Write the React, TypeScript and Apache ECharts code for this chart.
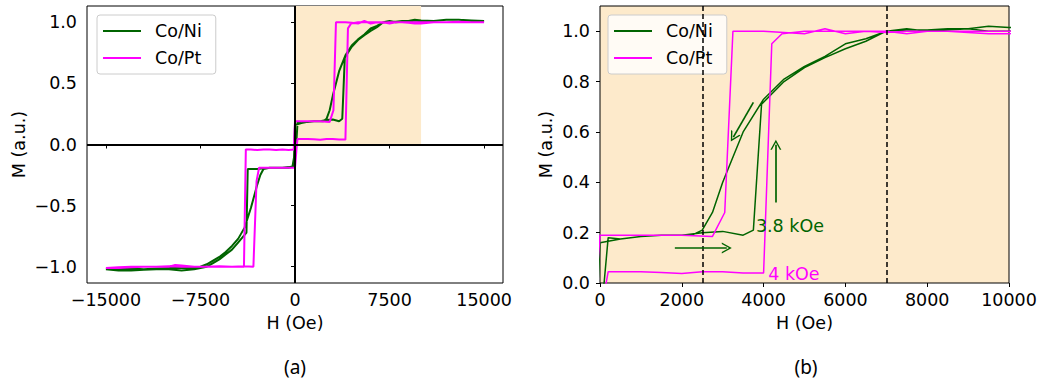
import React, { useEffect, useRef } from "react";
import * as echarts from "echarts";

// Co/Ni loop: decreasing-field branch then increasing-field branch [H (Oe), M (a.u.)]
const niDown: number[][] = [
  [15000, 1.01], [14000, 1.015], [13000, 1.02], [12000, 1.02], [11000, 1.01], [10000, 1.015],
  [9500, 1.02], [9000, 1.01], [8500, 1.01], [8000, 1.005], [7500, 1.005], [7000, 1.0],
  [6500, 0.97], [6000, 0.95], [5500, 0.9], [5000, 0.86], [4500, 0.81], [4000, 0.73],
  [3500, 0.6], [3000, 0.4], [2750, 0.28], [2500, 0.21], [2250, 0.19], [2000, 0.19],
  [1500, 0.19], [1000, 0.185], [500, 0.175], [0, 0.16], [-100, -0.18], [-500, -0.19],
  [-1000, -0.19], [-1500, -0.19], [-2000, -0.19], [-2500, -0.195], [-3000, -0.2], [-3500, -0.2],
  [-3750, -0.2], [-3850, -0.72], [-4000, -0.74], [-4500, -0.8], [-5000, -0.86], [-5500, -0.9],
  [-6000, -0.94], [-6500, -0.97], [-7000, -1.0], [-7500, -1.01], [-8000, -1.02], [-9000, -1.03],
  [-10000, -1.02], [-11000, -1.02], [-12000, -1.025], [-13000, -1.03], [-14000, -1.03], [-15000, -1.02],
];
const niUp: number[][] = [
  [-15000, -1.02], [-14000, -1.02], [-13000, -1.015], [-12000, -1.02], [-11000, -1.015], [-10000, -1.01],
  [-9000, -1.01], [-8000, -1.01], [-7500, -1.0], [-7000, -0.98], [-6500, -0.95], [-6000, -0.92],
  [-5500, -0.88], [-5000, -0.83], [-4500, -0.77], [-4000, -0.68], [-3500, -0.52], [-3000, -0.33],
  [-2750, -0.25], [-2500, -0.2], [-2000, -0.19], [-1500, -0.19], [-1000, -0.19], [-500, -0.185],
  [-200, -0.18], [100, 0.0], [200, 0.18], [500, 0.175], [1000, 0.185], [1500, 0.19],
  [2000, 0.19], [2500, 0.2], [3000, 0.205], [3500, 0.19], [3750, 0.21], [3950, 0.71],
  [4500, 0.8], [5000, 0.855], [5500, 0.895], [6000, 0.93], [6500, 0.96], [7000, 1.0],
  [7500, 1.01], [8000, 1.0], [8500, 1.005], [9000, 1.01], [9500, 1.0], [10000, 1.0],
  [11000, 1.01], [12000, 1.02], [13000, 1.02], [14000, 1.01], [15000, 1.01],
];

// Co/Pt loop
const ptDown: number[][] = [
  [15000, 1.0], [14000, 1.0], [13000, 1.005], [12000, 1.0], [11000, 1.0], [10000, 0.99],
  [9500, 0.99], [9000, 0.995], [8500, 1.0], [8000, 1.0], [7500, 0.99], [7000, 1.0],
  [6500, 1.0], [6000, 0.99], [5500, 1.01], [5000, 0.99], [4500, 0.995], [4000, 1.0],
  [3500, 1.0], [3250, 1.0], [3050, 0.28], [2750, 0.185], [2000, 0.19], [1500, 0.19],
  [1000, 0.19], [500, 0.19], [0, 0.19], [-100, -0.04], [-500, -0.045], [-1000, -0.04],
  [-1500, -0.045], [-2000, -0.04], [-2500, -0.04], [-3000, -0.045], [-3500, -0.04], [-3900, -0.04],
  [-4050, -1.0], [-5000, -1.0], [-6000, -0.995], [-7000, -1.0], [-8000, -1.0], [-9000, -0.99],
  [-9500, -0.985], [-10000, -1.0], [-11000, -1.0], [-12000, -1.0], [-13000, -1.005], [-14000, -1.01],
  [-15000, -1.01],
];
const ptUp: number[][] = [
  [-15000, -1.01], [-14000, -1.005], [-13000, -1.0], [-12000, -1.0], [-11000, -1.0], [-10000, -0.995],
  [-9000, -1.0], [-8000, -1.0], [-7000, -1.0], [-6000, -1.0], [-5000, -1.0], [-4000, -0.995],
  [-3300, -1.0], [-3050, -0.3], [-2850, -0.19], [-2000, -0.19], [-1000, -0.19], [-500, -0.19],
  [0, -0.19], [150, 0.0], [200, 0.045], [500, 0.045], [1000, 0.045], [1500, 0.042],
  [2000, 0.038], [2500, 0.045], [3000, 0.045], [3500, 0.04], [4000, 0.04], [4200, 0.95],
  [4450, 0.99], [5000, 1.0], [6000, 1.0], [6500, 1.0], [7000, 0.995], [7500, 1.0],
  [8000, 1.0], [9000, 1.0], [10000, 1.0], [11000, 1.0], [12000, 1.0], [13000, 1.0],
  [14000, 1.0], [15000, 1.0],
];

// tick labels
const xTicksA = [-15000, -7500, 0, 7500, 15000];
const yTicksA = [-1.0, -0.5, 0.0, 0.5, 1.0];
const xTicksB = [0, 2000, 4000, 6000, 8000, 10000];
const yTicksB = [0.0, 0.2, 0.4, 0.6, 0.8, 1.0];

// panel (a) shaded region and panel (b) markers
const shadeA = { x0: 0, x1: 10000, y0: 0 };
const dashedB = [2500, 7000];
// arrows: [fromH, fromM, toH, toM]
const arrowsB: number[][] = [
  [3750, 0.717, 3260, 0.579],
  [4300, 0.32, 4300, 0.549],
  [1830, 0.139, 3100, 0.139],
];
const notesB = [
  { text: "3.8 kOe", h: 3800, m: 0.225, color: "#006400" },
  { text: "4 kOe", h: 4100, m: 0.037, color: "#ff00ff" },
];
const panelLabels = [
  { text: "(a)", x: 295, y: 367 },
  { text: "(b)", x: 806, y: 367 },
];

const GREEN = "#006400";
const MAGENTA = "#ff00ff";
const SHADE = "#fdeacb";
const FONT = "DejaVu Sans";
const FS = 17.5;

const minus = (s: string) => s.replace("-", "\u2212");

const yMinA = -1.133, yMaxA = 1.133;

const arrowHead = "path://M0,10 L5,0 L10,10 L8.6,10 L5,2.8 L1.4,10 Z";

function axisCommon() {
  return {
    type: "value" as const,
    splitLine: { show: false },
    axisLine: { show: false },
    nameLocation: "middle" as const,
    nameTextStyle: { fontFamily: FONT, fontSize: FS, color: "#000" },
  };
}

export default function App() {
  const ref = useRef<HTMLDivElement>(null);
  useEffect(() => {
    const chart = echarts.init(ref.current!, null, { renderer: "svg" });
    const labelStyle = { fontFamily: FONT, fontSize: FS, color: "#000" };
    const legendCommon = {
      data: ["Co/Ni", "Co/Pt"],
      orient: "vertical" as const,
      icon: "rect",
      itemWidth: 38,
      itemHeight: 2,
      itemGap: 7,
      padding: [6, 14, 6, 6],
      backgroundColor: "rgba(255,255,255,0.8)",
      borderColor: "#cccccc",
      borderWidth: 1,
      borderRadius: 3,
      textStyle: { fontFamily: FONT, fontSize: FS, color: "#000", lineHeight: 20, padding: [0, 0, 0, 9] },
    };
    const option: any = {
      animation: false,
      backgroundColor: "#fff",
      grid: [
        { left: 87, top: 6, width: 416, height: 277, show: true, borderColor: "#000", borderWidth: 1, backgroundColor: "transparent" },
        { left: 600, top: 6, width: 409, height: 277, show: true, borderColor: "#000", borderWidth: 1, backgroundColor: SHADE },
      ],
      xAxis: [
        {
          ...axisCommon(), gridIndex: 0, min: -16500, max: 16500,
          axisTick: { show: true, length: 4, lineStyle: { color: "#000" }, customValues: xTicksA },
          axisLabel: { ...labelStyle, margin: 8, customValues: xTicksA, formatter: (v: number) => minus(String(v)) },
          name: "H (Oe)", nameGap: 31,
        },
        {
          ...axisCommon(), gridIndex: 1, min: 0, max: 10000,
          axisTick: { show: true, length: 4, lineStyle: { color: "#000" }, customValues: xTicksB },
          axisLabel: { ...labelStyle, margin: 8, customValues: xTicksB, formatter: (v: number) => String(v) },
          name: "H (Oe)", nameGap: 31,
        },
      ],
      yAxis: [
        {
          ...axisCommon(), gridIndex: 0, min: yMinA, max: yMaxA,
          axisTick: { show: true, length: 4, lineStyle: { color: "#000" }, customValues: yTicksA },
          axisLabel: { ...labelStyle, margin: 10, customValues: yTicksA, formatter: (v: number) => minus(v.toFixed(1)) },
          name: "M (a.u.)", nameGap: 59,
        },
        {
          ...axisCommon(), gridIndex: 1, min: 0, max: 1.1,
          axisTick: { show: true, length: 4, lineStyle: { color: "#000" }, customValues: yTicksB },
          axisLabel: { ...labelStyle, margin: 10, customValues: yTicksB, formatter: (v: number) => v.toFixed(1) },
          name: "M (a.u.)", nameGap: 45,
        },
      ],
      legend: [
        { ...legendCommon, left: 97, top: 15 },
        { ...legendCommon, left: 608, top: 15 },
      ],
      graphic: panelLabels.map((p) => ({
        type: "text", x: p.x, y: p.y,
        style: { text: p.text, fontFamily: "Noto Sans", fontSize: 19, fill: "#000", align: "center", verticalAlign: "middle" },
      })),
      series: [
        {
          type: "line", name: "_bgA", xAxisIndex: 0, yAxisIndex: 0, z: 1,
          data: [[0, 0]], symbol: "none", lineStyle: { width: 0, opacity: 0 }, silent: true,
          markArea: {
            silent: true,
            itemStyle: { color: SHADE, opacity: 1 },
            data: [[{ xAxis: shadeA.x0, yAxis: shadeA.y0 }, { xAxis: shadeA.x1, yAxis: yMaxA }]],
          },
        },
        {
          type: "line", name: "_zeroA", xAxisIndex: 0, yAxisIndex: 0, z: 2,
          data: [[0, 0]], symbol: "none", lineStyle: { width: 0, opacity: 0 }, silent: true,
          markLine: {
            silent: true, symbol: ["none", "none"], label: { show: false },
            lineStyle: { color: "#000", width: 2, type: "solid" },
            data: [{ xAxis: 0 }, { yAxis: 0 }],
          },
        },
        {
          type: "line", name: "Co/Ni", xAxisIndex: 0, yAxisIndex: 0, z: 3,
          data: niDown.concat(niUp), showSymbol: false, symbol: "none",
          color: GREEN, lineStyle: { color: GREEN, width: 2 },
        },
        {
          type: "line", name: "Co/Pt", xAxisIndex: 0, yAxisIndex: 0, z: 3,
          data: ptDown.concat(ptUp), showSymbol: false, symbol: "none",
          color: MAGENTA, lineStyle: { color: MAGENTA, width: 2 },
        },
        {
          type: "line", name: "_markB", xAxisIndex: 1, yAxisIndex: 1, z: 4,
          data: [[0, 0]], symbol: "none", lineStyle: { width: 0, opacity: 0 }, silent: true,
          markLine: {
            silent: true, symbol: ["none", "none"], label: { show: false },
            lineStyle: { color: "#000", width: 1.5, type: [5, 3] },
            data: [
              ...dashedB.map((x) => ({ xAxis: x })),
              ...arrowsB.map((a) => [
                { coord: [a[0], a[1]], symbol: "none", lineStyle: { color: GREEN, width: 1.7, type: "solid" } },
                { coord: [a[2], a[3]], symbol: arrowHead, symbolSize: [11, 10], lineStyle: { color: GREEN, width: 1.7, type: "solid" } },
              ]),
            ],
          },
          markPoint: {
            silent: true,
            data: notesB.map((n) => ({
              coord: [n.h, n.m], symbol: "circle", symbolSize: 1,
              itemStyle: { color: "transparent" },
              label: { show: true, position: "right", distance: 0, formatter: n.text, color: n.color, fontFamily: FONT, fontSize: FS },
            })),
          },
        },
        {
          type: "line", name: "Co/Ni", xAxisIndex: 1, yAxisIndex: 1, z: 3,
          data: niDown.concat(niUp), showSymbol: false, symbol: "none",
          color: GREEN, lineStyle: { color: GREEN, width: 1.5 },
        },
        {
          type: "line", name: "Co/Pt", xAxisIndex: 1, yAxisIndex: 1, z: 3,
          data: ptDown.concat(ptUp), showSymbol: false, symbol: "none",
          color: MAGENTA, lineStyle: { color: MAGENTA, width: 1.5 },
        },
      ],
    };
    chart.setOption(option);
    return () => chart.dispose();
  }, []);
  return <div ref={ref} style={{ position: "fixed", left: 0, top: 0, width: 1048, height: 382 }} />;
}
